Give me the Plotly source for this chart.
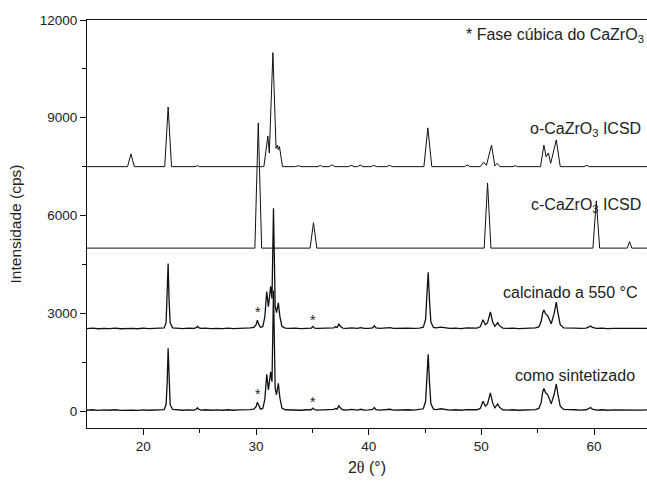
import plotly.graph_objects as go

# ---------------- data (2theta in degrees, intensity in cps, before stacking) -------------
series_names = ["como sintetizado", "calcinado a 550 °C", "c-CaZrO3 ICSD", "o-CaZrO3 ICSD"]
stack_offsets = [0, 2500, 5000, 7500]

o_x = [15.0, 18.6, 18.9, 19.2, 21.9, 22.2, 22.5, 24.6, 24.8, 25.0,
       30.7, 31.05, 31.18, 31.5, 31.78, 31.9, 31.98, 32.08, 32.35,
       33.5, 33.75, 34.0, 35.5, 35.7, 35.9, 36.5, 36.75, 37.0, 38.2, 38.45, 38.7,
       39.0, 39.25, 39.5, 40.2, 40.45, 40.7, 41.6, 41.85, 42.1,
       44.9, 45.25, 45.6, 48.5, 48.75, 49.0, 49.9, 50.2, 50.45, 50.9, 51.2, 51.4, 51.65,
       52.8, 53.0, 53.2, 55.25, 55.55, 55.75, 55.95, 56.15, 56.65, 57.0,
       59.1, 59.35, 59.6, 64.7]
o_y = [0, 0, 390, 0, 0, 1830, 0, 0, 30, 0,
       0, 940, 420, 3500, 560, 660, 520, 620, 0,
       0, 30, 0, 0, 40, 0, 0, 55, 0, 0, 40, 0,
       0, 50, 0, 0, 40, 0, 0, 40, 0,
       0, 1190, 0, 0, 50, 0, 0, 140, 40, 660, 20, 100, 0,
       0, 30, 0, 0, 660, 300, 420, 100, 820, 0,
       0, 40, 0, 0]

c_x = [15.0, 29.9, 30.2, 30.5, 34.8, 35.1, 35.4, 50.25, 50.55, 50.85,
       59.9, 60.2, 60.5, 62.95, 63.15, 63.35, 64.7]
c_y = [0, 0, 3840, 0, 0, 780, 0, 0, 2000, 0,
       0, 1450, 0, 0, 200, 0, 0]

como_pts = [(15.0, 25), (15.5, 40), (16.0, 20), (16.5, 35), (17.0, 25), (17.5, 40), (18.0, 20),
            (18.5, 35), (19.0, 30), (19.5, 20), (20.0, 38), (20.5, 25), (21.0, 35), (21.5, 30),
            (21.85, 45), (22.02, 200), (22.12, 900), (22.2, 1930), (22.28, 900), (22.38, 200),
            (22.6, 50), (23.0, 35), (23.5, 25), (24.0, 38), (24.5, 30), (24.7, 60), (24.8, 100),
            (24.9, 60), (25.1, 30), (25.5, 40), (26.0, 25), (26.5, 35), (27.0, 25), (27.5, 40),
            (28.0, 25), (28.5, 35), (29.0, 30), (29.5, 45), (29.8, 60), (30.0, 130), (30.12, 270),
            (30.25, 140), (30.4, 60), (30.6, 80), (30.78, 350), (30.95, 1130), (31.1, 650),
            (31.3, 1200), (31.42, 900), (31.55, 3700), (31.7, 700), (31.82, 500), (31.98, 850),
            (32.12, 400), (32.3, 90), (32.6, 40), (33.0, 30), (33.5, 40), (34.0, 25), (34.5, 40),
            (34.9, 40), (35.05, 90), (35.2, 40), (35.5, 30), (36.0, 40), (36.5, 30), (36.9, 50),
            (37.05, 80), (37.2, 60), (37.35, 160), (37.5, 90), (37.7, 40), (38.0, 30), (38.5, 50),
            (39.0, 30), (39.3, 55), (39.6, 30), (40.0, 35), (40.35, 50), (40.5, 110), (40.65, 45),
            (41.0, 30), (41.5, 40), (41.9, 55), (42.2, 30), (42.5, 35), (43.0, 25), (43.5, 40),
            (44.0, 30), (44.5, 40), (44.85, 70), (45.05, 300), (45.17, 1050), (45.28, 1740),
            (45.4, 850), (45.52, 220), (45.75, 60), (46.0, 45), (46.4, 70), (46.8, 40), (47.2, 30),
            (47.7, 40), (48.2, 25), (48.7, 45), (49.2, 30), (49.6, 40), (49.9, 80), (50.15, 300),
            (50.35, 150), (50.55, 220), (50.8, 560), (51.0, 250), (51.2, 100), (51.45, 220),
            (51.6, 120), (51.9, 40), (52.3, 30), (52.8, 40), (53.3, 25), (53.8, 35), (54.3, 30),
            (54.8, 45), (55.1, 80), (55.3, 250), (55.45, 600), (55.55, 690), (55.7, 560),
            (55.85, 520), (55.95, 450), (56.2, 220), (56.45, 500), (56.65, 830), (56.8, 500),
            (57.0, 150), (57.3, 50), (57.8, 35), (58.3, 40), (58.8, 30), (59.3, 40), (59.55, 80),
            (59.7, 110), (59.85, 60), (60.2, 30), (60.7, 40), (61.2, 25), (61.7, 35), (62.2, 30),
            (62.7, 40), (63.2, 25), (63.7, 35), (64.2, 30), (64.7, 35)]

calc_pts = [(15.0, 30), (15.5, 45), (16.0, 25), (16.5, 40), (17.0, 30), (17.5, 45), (18.0, 25),
            (18.5, 40), (19.0, 35), (19.5, 25), (20.0, 42), (20.5, 30), (21.0, 40), (21.5, 35),
            (21.85, 50), (22.02, 210), (22.12, 950), (22.2, 2030), (22.28, 950), (22.38, 210),
            (22.6, 55), (23.0, 40), (23.5, 30), (24.0, 42), (24.5, 35), (24.7, 60), (24.8, 100),
            (24.9, 60), (25.1, 35), (25.5, 45), (26.0, 30), (26.5, 40), (27.0, 30), (27.5, 45),
            (28.0, 30), (28.5, 40), (29.0, 35), (29.5, 50), (29.8, 70), (30.0, 140), (30.12, 290),
            (30.25, 150), (30.4, 70), (30.6, 90), (30.78, 380), (30.95, 1170), (31.1, 700),
            (31.3, 1330), (31.42, 950), (31.55, 3720), (31.7, 720), (31.82, 520), (31.98, 820),
            (32.12, 400), (32.3, 95), (32.6, 45), (33.0, 35), (33.5, 45), (34.0, 30), (34.5, 45),
            (34.9, 45), (35.05, 95), (35.2, 45), (35.5, 35), (36.0, 45), (36.5, 35), (36.9, 55),
            (37.05, 85), (37.2, 65), (37.35, 170), (37.5, 95), (37.7, 45), (38.0, 35), (38.5, 55),
            (39.0, 35), (39.3, 60), (39.6, 35), (40.0, 40), (40.35, 55), (40.5, 115), (40.65, 50),
            (41.0, 35), (41.5, 45), (41.9, 60), (42.2, 35), (42.5, 40), (43.0, 30), (43.5, 45),
            (44.0, 35), (44.5, 45), (44.85, 75), (45.05, 310), (45.17, 1080), (45.28, 1760),
            (45.4, 870), (45.52, 230), (45.75, 65), (46.0, 50), (46.4, 75), (46.8, 45), (47.2, 35),
            (47.7, 45), (48.2, 30), (48.7, 50), (49.2, 35), (49.6, 45), (49.9, 85), (50.15, 300),
            (50.35, 150), (50.55, 210), (50.8, 540), (51.0, 240), (51.2, 100), (51.45, 210),
            (51.6, 120), (51.9, 45), (52.3, 35), (52.8, 45), (53.3, 30), (53.8, 40), (54.3, 35),
            (54.8, 50), (55.1, 80), (55.3, 240), (55.45, 520), (55.55, 600), (55.7, 480),
            (55.85, 440), (55.95, 380), (56.2, 180), (56.45, 480), (56.65, 840), (56.8, 500),
            (57.0, 150), (57.3, 55), (57.8, 40), (58.3, 45), (58.8, 35), (59.3, 45), (59.55, 85),
            (59.7, 110), (59.85, 65), (60.2, 35), (60.7, 45), (61.2, 30), (61.7, 40), (62.2, 35),
            (62.7, 45), (63.2, 30), (63.7, 40), (64.2, 35), (64.7, 40)]

star_x = [30.15, 35.05]
x_ticks = [20, 30, 40, 50, 60]
y_ticks = [0, 3000, 6000, 9000, 12000]

# ---------------- figure -------------
FONT = "Liberation Sans, Arial, sans-serif"
TXT = "#222222"

fig = go.Figure()

series = [
    ([p[0] for p in como_pts], [p[1] for p in como_pts]),
    ([p[0] for p in calc_pts], [p[1] for p in calc_pts]),
    (c_x, c_y),
    (o_x, o_y),
]
widths = [1.3, 1.3, 1.0, 1.0]
for (xs, ys), off, name, w in zip(series, stack_offsets, series_names, widths):
    fig.add_trace(go.Scatter(x=xs, y=[v + off for v in ys], mode="lines", name=name,
                             line=dict(color="#111111", width=w), showlegend=False,
                             hoverinfo="skip"))

# labels for each pattern
label_specs = [
    ("como sintetizado", 0.982, 0.128),
    ("calcinado a 550 °C", 0.985, 0.333),
    ("c-CaZrO<sub>3</sub> ICSD", 0.992, 0.545),
    ("o-CaZrO<sub>3</sub> ICSD", 0.992, 0.732),
]
for txt, px, py in label_specs:
    fig.add_annotation(text=txt, xref="paper", yref="paper", x=px, y=py,
                       xanchor="right", yanchor="middle", showarrow=False,
                       font=dict(family=FONT, size=16, color=TXT))

fig.add_annotation(text="* Fase cúbica do CaZrO<sub>3</sub>", xref="paper", yref="paper",
                   x=0.999, y=0.962, xanchor="right", yanchor="middle", showarrow=False,
                   font=dict(family=FONT, size=16, color=TXT))

# stars marking the cubic phase reflections
star_levels = [(0, [330, 90]), (2500, [330, 90])]
for off, lifts in star_levels:
    for sx, lift in zip(star_x, lifts):
        fig.add_annotation(text="*", x=sx, y=off + lift + 200, xref="x", yref="y",
                           showarrow=False, yanchor="middle",
                           font=dict(family=FONT, size=14, color=TXT))

fig.update_xaxes(range=[15, 64.7], tickvals=x_ticks, ticks="outside", ticklen=6,
                 tickcolor="#111", showline=True, linecolor="#111", linewidth=1.2,
                 mirror=True, showgrid=False, zeroline=False,
                 minor=dict(tickvals=[25, 35, 45, 55], ticks="outside", ticklen=4,
                            tickcolor="#111"),
                 tickfont=dict(family=FONT, size=13.5, color=TXT),
                 title=dict(text="2<span style='font-family:Liberation Serif'>θ</span> (°)",
                            font=dict(family=FONT, size=16, color=TXT), standoff=8))
fig.update_yaxes(range=[-520, 12000], tickvals=y_ticks, tickformat="d", ticks="outside",
                 ticklen=6, tickcolor="#111", showline=True, linecolor="#111", linewidth=1.2,
                 showgrid=False, zeroline=False,
                 minor=dict(tickvals=[1500, 4500, 7500, 10500], ticks="outside", ticklen=4,
                            tickcolor="#111"),
                 tickfont=dict(family=FONT, size=13.5, color=TXT),
                 title=dict(text="Intensidade (cps)",
                            font=dict(family=FONT, size=15.5, color=TXT), standoff=14))

fig.update_layout(width=647, height=485, margin=dict(l=87, r=0, t=20, b=57),
                  plot_bgcolor="white", paper_bgcolor="white")

# remove the browser's default page margin so the figure fills the window exactly
fig.write_html("out.html", config={"displayModeBar": False},
               post_script="document.body.style.margin='0';document.body.style.overflow='hidden';")
